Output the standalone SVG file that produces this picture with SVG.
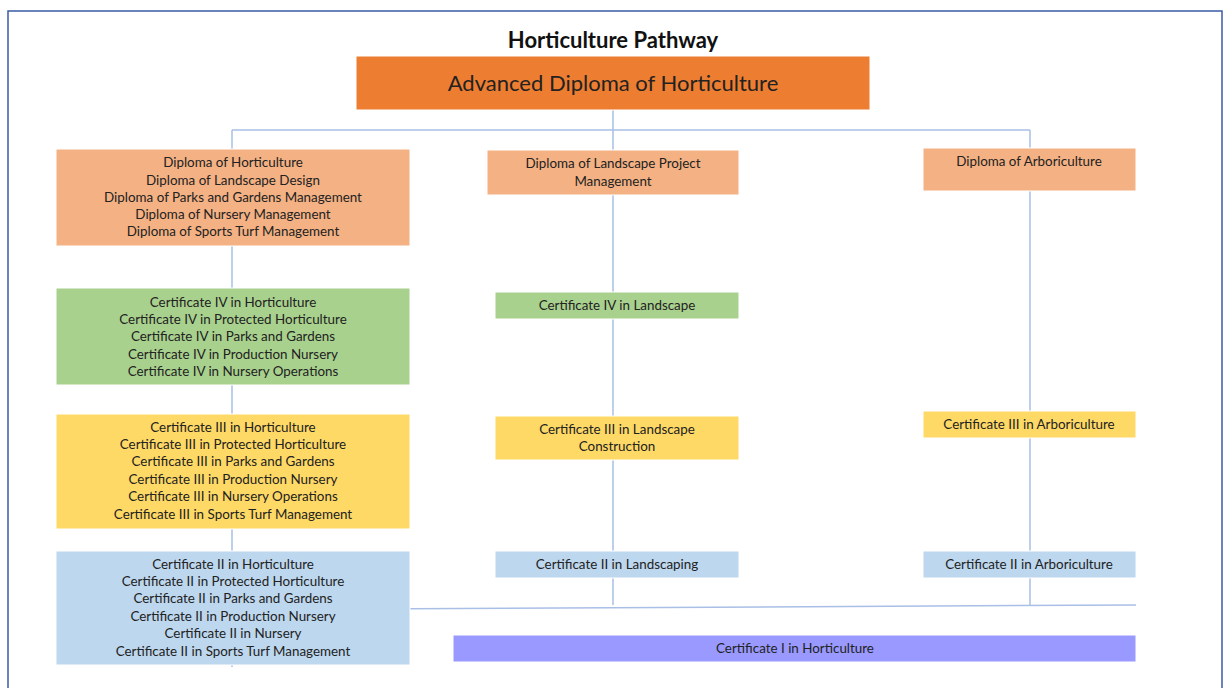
<svg xmlns="http://www.w3.org/2000/svg" width="1226" height="688" viewBox="0 0 1226 688">
<style>
text{font-family:Lato,"Open Sans","Liberation Sans",sans-serif;fill:#222;text-anchor:middle;}
.t{font-size:13.4px;}
.n rect{stroke:#ffffff;stroke-width:1;}
.c{stroke:#A9BFE6;stroke-width:1.5;fill:none;}
.dip{fill:#F4B183;}
.c4{fill:#A9D18E;}
.c3{fill:#FFD966;}
.c2{fill:#BDD7EE;}
.c1{fill:#9999FF;}
</style>
<rect x="0" y="0" width="1226" height="688" fill="#ffffff"/>
<rect x="8" y="11" width="1214" height="690" fill="none" stroke="#3A5BA8" stroke-width="1.5"/>
<text x="613" y="48" style="font-size:22px;font-weight:bold;fill:#111">Horticulture Pathway</text>
<g id="connectors">
<path class="c" d="M613 110V605"/>
<path class="c" d="M232 130H1030"/>
<path class="c" d="M232 130V667"/>
<path class="c" d="M1030 130V605"/>
<path class="c" d="M410 608.7L1136 605"/>
</g>
<g id="adv" class="n"><rect x="356" y="56" width="514" height="54" fill="#ED7D31"/><text x="613" y="91" style="font-size:22px">Advanced Diploma of Horticulture</text></g>
<g id="dip-left" class="n"><rect class="dip" x="56" y="149" width="354" height="97"/>
<text class="t"><tspan x="233" y="167">Diploma of Horticulture</tspan><tspan x="233" y="184.5">Diploma of Landscape Design</tspan><tspan x="233" y="201.8">Diploma of Parks and Gardens Management</tspan><tspan x="233" y="219">Diploma of Nursery Management</tspan><tspan x="233" y="236">Diploma of Sports Turf Management</tspan></text></g>
<g id="dip-mid" class="n"><rect class="dip" x="487" y="150" width="252" height="45"/>
<text class="t"><tspan x="613" y="168">Diploma of Landscape Project</tspan><tspan x="613" y="185.5">Management</tspan></text></g>
<g id="dip-right" class="n"><rect class="dip" x="923" y="148" width="213" height="43"/>
<text class="t" x="1029" y="165.5">Diploma of Arboriculture</text></g>
<g id="c4-left" class="n"><rect class="c4" x="56" y="288" width="354" height="97"/>
<text class="t"><tspan x="233" y="306.5">Certificate IV in Horticulture</tspan><tspan x="233" y="324">Certificate IV in Protected Horticulture</tspan><tspan x="233" y="341.3">Certificate IV in Parks and Gardens</tspan><tspan x="233" y="358.6">Certificate IV in Production Nursery</tspan><tspan x="233" y="375.9">Certificate IV in Nursery Operations</tspan></text></g>
<g id="c4-mid" class="n"><rect class="c4" x="495" y="292" width="244" height="27"/>
<text class="t" x="617" y="309.5">Certificate IV in Landscape</text></g>
<g id="c3-left" class="n"><rect class="c3" x="56" y="414" width="354" height="115"/>
<text class="t"><tspan x="233" y="431.5">Certificate III in Horticulture</tspan><tspan x="233" y="449">Certificate III in Protected Horticulture</tspan><tspan x="233" y="466.3">Certificate III in Parks and Gardens</tspan><tspan x="233" y="483.8">Certificate III in Production Nursery</tspan><tspan x="233" y="501">Certificate III in Nursery Operations</tspan><tspan x="233" y="518.5">Certificate III in Sports Turf Management</tspan></text></g>
<g id="c3-mid" class="n"><rect class="c3" x="495" y="416" width="244" height="44"/>
<text class="t"><tspan x="617" y="433.5">Certificate III in Landscape</tspan><tspan x="617" y="451">Construction</tspan></text></g>
<g id="c3-right" class="n"><rect class="c3" x="923" y="411" width="213" height="27"/>
<text class="t" x="1029" y="428.5">Certificate III in Arboriculture</text></g>
<g id="c2-left" class="n"><rect class="c2" x="56" y="551" width="354" height="114"/>
<text class="t"><tspan x="233" y="568.5">Certificate II in Horticulture</tspan><tspan x="233" y="586">Certificate II in Protected Horticulture</tspan><tspan x="233" y="603.4">Certificate II in Parks and Gardens</tspan><tspan x="233" y="621">Certificate II in Production Nursery</tspan><tspan x="233" y="638.3">Certificate II in Nursery</tspan><tspan x="233" y="655.6">Certificate II in Sports Turf Management</tspan></text></g>
<g id="c2-mid" class="n"><rect class="c2" x="495" y="551" width="244" height="27"/>
<text class="t" x="617" y="568.5">Certificate II in Landscaping</text></g>
<g id="c2-right" class="n"><rect class="c2" x="923" y="551" width="213" height="27"/>
<text class="t" x="1029" y="568.5">Certificate II in Arboriculture</text></g>
<g id="c1" class="n"><rect class="c1" x="453" y="635" width="683" height="27"/>
<text class="t" x="795" y="652.5">Certificate I in Horticulture</text></g>
</svg>
